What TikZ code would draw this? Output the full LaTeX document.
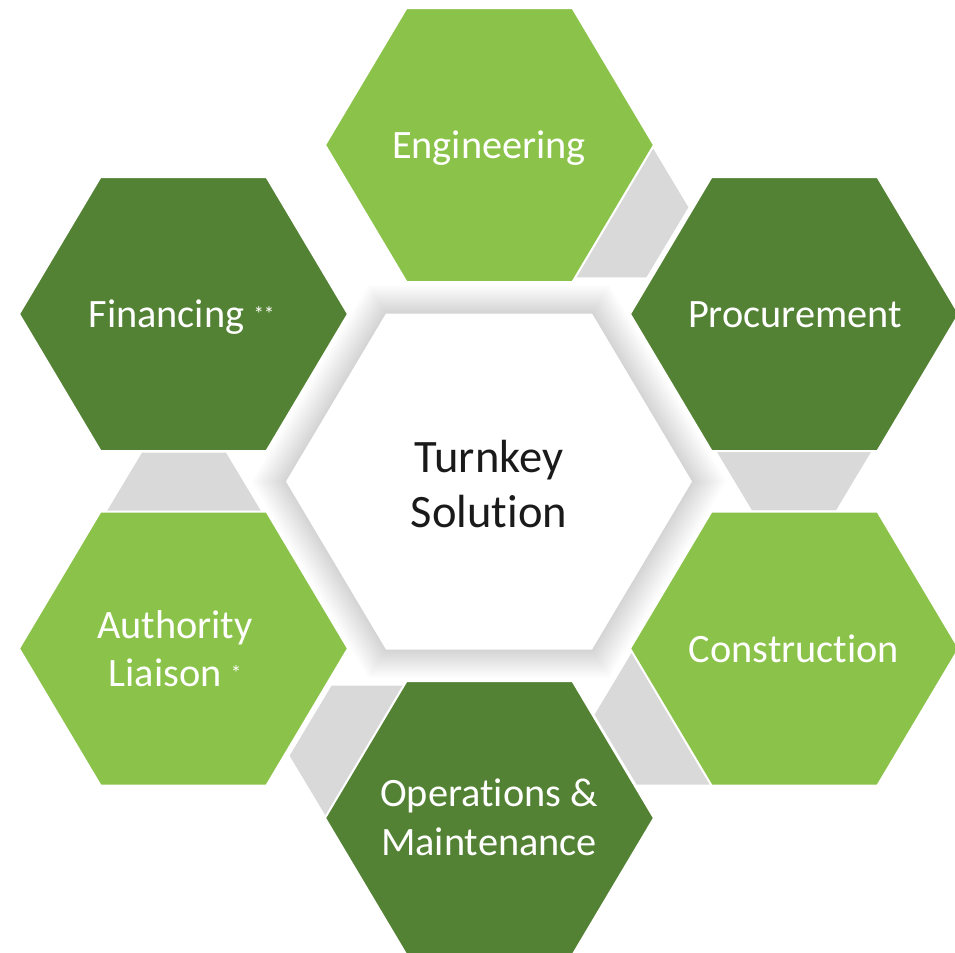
\documentclass[tikz,border=0pt]{standalone}
\usepackage{fontspec}
\setmainfont{Carlito}[Ligatures=NoCommon]
\definecolor{lgreen}{HTML}{8BC34A}
\definecolor{dgreen}{HTML}{548235}
\definecolor{conn}{HTML}{D9D9D9}
\definecolor{ctext}{HTML}{1A1A1A}
\tikzset{
  outerhex/.style={draw=white, line width=2bp},
  lbl/.style={text=white, font=\fontsize{40.3bp}{48.4bp}\selectfont, align=center, inner sep=0pt},
  ctr/.style={text=ctext, font=\fontsize{46.5bp}{54.6bp}\selectfont, align=center, inner sep=0pt},
}
\newcommand{\smallstar}[1]{\raisebox{6bp}{\fontsize{21bp}{21bp}\selectfont #1}}
\begin{document}
\begin{tikzpicture}[x=1bp, y=-1bp]
\clip (0,0) rectangle (955,953);
\fill[white] (0,0) rectangle (955,953);
% glow of the centre hexagon
\foreach \s in {1.00,1.012,...,1.17}
  \fill[black, opacity=0.012, shift={(489,481.5)}, scale=\s]
    (-203,0) -- (-103,-168) -- (103,-168) -- (203,0) -- (103,168) -- (-103,168) -- cycle;
% grey linking hexagons
\foreach \cx/\cy in {604.4/207.3, 794/440.3, 678.6/714.6, 373.6/755.7, 184/522.7}
  \fill[conn, shift={(\cx,\cy)}]
    (-84,0) -- (-42,-70) -- (42,-70) -- (84,0) -- (42,70) -- (-42,70) -- cycle;
% outer hexagons
\foreach \cx/\cy/\col in {489.5/145/lgreen, 794.5/314/dgreen, 794.5/648.5/lgreen,
                          489.5/818/dgreen, 183.5/648.5/lgreen, 183.5/314/dgreen}
  \fill[\col, outerhex, shift={(\cx,\cy)}]
    (-164.5,0) -- (-83,-137) -- (83,-137) -- (164.5,0) -- (83,137) -- (-83,137) -- cycle;
% centre hexagon
\fill[white, shift={(489,481.5)}]
  (-203,0) -- (-103,-168) -- (103,-168) -- (203,0) -- (103,168) -- (-103,168) -- cycle;
% labels
\node[lbl, anchor=base] (eng)  at (489,158.3) {Engineering};
\node[lbl, anchor=base] (proc) at (795,327)   {Procurement};
\node[lbl, anchor=base] (cons) at (794,662)   {Construction};
\node[lbl, anchor=base] (ops)  at (489,855)   {Operations \&\\Maintenance};
\node[lbl, anchor=base] (auth) at (175,686.7) {Authority\\Liaison \smallstar{*}};
\node[lbl, anchor=base] (fin)  at (181.5,327) {Financing \smallstar{**}};
\node[ctr, anchor=base] (turn) at (489,527.3) {Turnkey\\Solution};
\end{tikzpicture}
\end{document}
